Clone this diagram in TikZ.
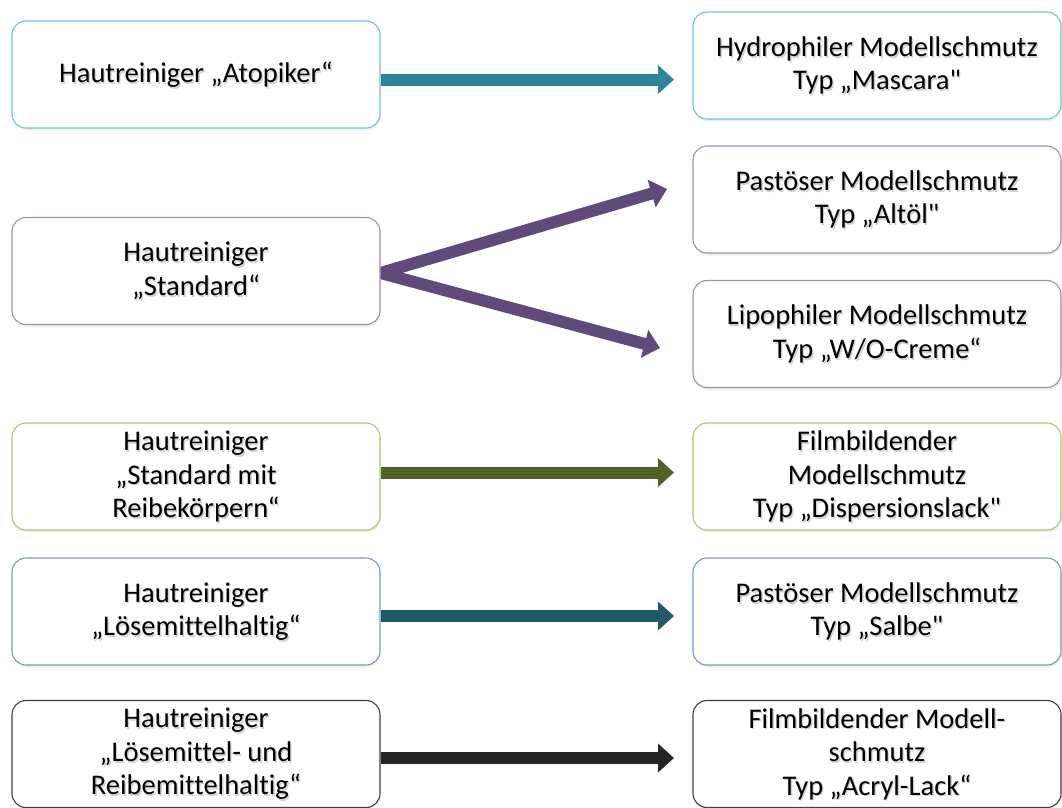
\documentclass[tikz,border=0pt]{standalone}
\usepackage{fontspec}
\setmainfont{Carlito}[Ligatures={TeXOff,NoCommon}]
\usetikzlibrary{arrows.meta,shadows,calc}
\pgfdeclarelayer{background}
\pgfsetlayers{background,main}

% arrow colours
\definecolor{arTeal}{HTML}{31849B}
\definecolor{arPurple}{HTML}{604A7B}
\definecolor{arGreen}{HTML}{4F6228}
\definecolor{arPetrol}{HTML}{215968}
\definecolor{arBlack}{HTML}{262626}
% frame colours
\definecolor{frTeal}{HTML}{72C3D8}
\definecolor{frPurple}{HTML}{A18CC0}
\definecolor{frGreen}{HTML}{A9C773}
\definecolor{frBlue}{HTML}{7499CC}
\definecolor{frBlack}{HTML}{404040}

% text with a soft shadow, centred in a card
\newcommand\cardtext[2]{%
  \node[lshadow] (#1s) at ($(#1.center)+(1.4,1.8)$) {#2};
  \node[label] (#1t) at (#1.center) {#2};}

\begin{document}
\begin{tikzpicture}[x=1pt,y=-1pt,
  card/.style={draw=#1, rounded corners=14pt, minimum width=368pt,
    minimum height=107pt, fill=white, line width=1.1pt, inner sep=0pt,
    drop shadow={opacity=0.12, shadow xshift=1pt, shadow yshift=-2.5pt}},
  label/.style={font=\fontsize{28.5}{33.5}\selectfont, align=center, text=black},
  lshadow/.style={label, text=black!50, opacity=0.35},
  flow/.style={line width=12pt, -{Triangle[length=16pt,width=28pt]}},
  fork/.style={line width=12pt, miter limit=10,
    {Triangle[length=16pt,width=28pt]}-{Triangle[length=16pt,width=28pt]}}
]
\useasboundingbox (0,0) rectangle (1062,807);

% cleaners (left column)
\node[card=frTeal]   (L1) at (196,74.5) {};
\node[card=frPurple] (L2) at (196,271)  {};
\node[card=frGreen]  (L3) at (196,476.5) {};
\node[card=frBlue]   (L4) at (196,611.5) {};
\node[card=frBlack]  (L5) at (196,754)  {};

% model soils (right column)
\node[card=frTeal]   (R1) at (877,65.5)  {};
\node[card=frPurple] (R2) at (877,199.5) {};
\node[card=frPurple] (R3) at (877,334)   {};
\node[card=frGreen]  (R4) at (877,476.5) {};
\node[card=frBlue]   (R5) at (877,611.5) {};
\node[card=frBlack]  (R6) at (877,754)   {};

\cardtext{L1}{Hautreiniger „Atopiker“}
\cardtext{L2}{Hautreiniger\\„Standard“}
\cardtext{L3}{Hautreiniger\\„Standard mit\\Reibekörpern“}
\cardtext{L4}{Hautreiniger\\„Lösemittelhaltig“}
\cardtext{L5}{Hautreiniger\\„Lösemittel- und\\Reibemittelhaltig“}

\cardtext{R1}{Hydrophiler Modellschmutz\\Typ „Mascara"}
\cardtext{R2}{Pastöser Modellschmutz\\Typ „Altöl"}
\cardtext{R3}{Lipophiler Modellschmutz\\Typ „W/O-Creme“}
\cardtext{R4}{Filmbildender\\Modellschmutz\\Typ „Dispersionslack"}
\cardtext{R5}{Pastöser Modellschmutz\\Typ „Salbe"}
\cardtext{R6}{Filmbildender Modell-\\schmutz\\Typ „Acryl-Lack“}

% arrow tips
\coordinate (t1) at (674,79.5);
\coordinate (t2) at (667,189);
\coordinate (t3) at (660,348);
\coordinate (t4) at (674,472.5);
\coordinate (t5) at (674,616);
\coordinate (t6) at (674,758);
\coordinate (j2) at ($(L2.east)+(0,2)$);

\begin{pgfonlayer}{background}
  \draw[flow, arTeal]   (L1.east |- t1) -- (t1);
  \draw[fork, arPurple] (t2) -- (j2) -- (t3);
  \draw[flow, arGreen]  (L3.east |- t4) -- (t4);
  \draw[flow, arPetrol] (L4.east |- t5) -- (t5);
  \draw[flow, arBlack]  (L5.east |- t6) -- (t6);
\end{pgfonlayer}
\end{tikzpicture}
\end{document}
